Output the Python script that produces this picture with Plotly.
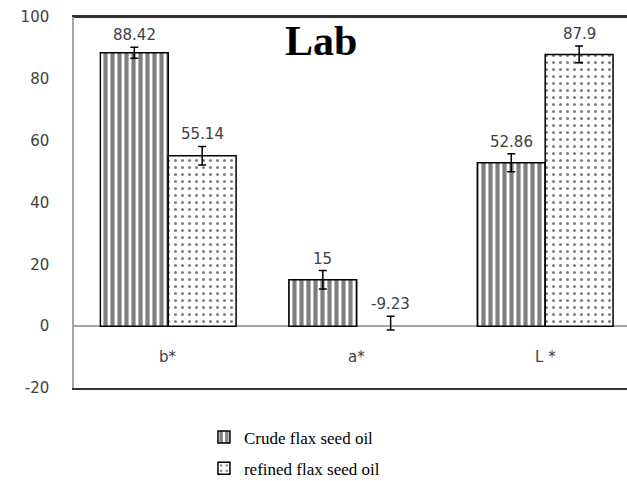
import plotly.graph_objects as go

categories = ["b*", "a*", "L *"]
crude_values = [88.42, 15, 52.86]
refined_values = [55.14, 0, 87.9]
crude_labels = ["88.42", "15", "52.86"]
refined_labels = ["55.14", "-9.23", "87.9"]
crude_err = [1.8, 3, 2.9]
refined_err_plus = [3, 3.2, 2.7]
refined_err_minus = [3, 1.2, 2.7]
y_ticks = [100, 80, 60, 40, 20, 0, -20]
y_tick_text = ["100", "80", "60", "40", "20", "0", "-20"]

x_idx = [0, 1, 2]
off = 0.18

fig = go.Figure()
fig.add_trace(go.Bar(
    x=x_idx, y=crude_values, name="Crude flax seed oil", legendgroup="a",
    marker=dict(color="white", line=dict(color="black", width=1.5),
                pattern=dict(shape="|", fgcolor="black", bgcolor="white", size=7, solidity=0.6)),
    error_y=dict(type="data", array=crude_err, color="black", thickness=1.5, width=4),
))
fig.add_trace(go.Bar(
    x=x_idx, y=refined_values, name="refined flax seed oil", legendgroup="b",
    marker=dict(color="white", line=dict(color="black", width=[1.5, 0, 1.5]),
                pattern=dict(shape=".", fgcolor="black", bgcolor="white", size=7, solidity=0.15)),
    error_y=dict(type="data", array=refined_err_plus, arrayminus=refined_err_minus,
                 symmetric=False, color="black", thickness=1.5, width=4),
))

ann = []
for i in range(3):
    ann.append(dict(x=i - off, y=crude_values[i] + crude_err[i], text=crude_labels[i],
                    showarrow=False, yanchor="bottom", yshift=1,
                    font=dict(family="DejaVu Sans", size=15, color="#404040")))
    ann.append(dict(x=i + off, y=refined_values[i] + refined_err_plus[i], text=refined_labels[i],
                    showarrow=False, yanchor="bottom", yshift=1,
                    font=dict(family="DejaVu Sans", size=15, color="#404040")))
    ann.append(dict(x=i, y=-10, text=categories[i], showarrow=False,
                    font=dict(family="DejaVu Sans", size=15, color="#404040")))
ann.append(dict(x=0.447, y=0.935, xref="paper", yref="paper", text="<b>Lab</b>", showarrow=False,
                yanchor="middle", font=dict(family="Liberation Serif", size=42, color="black")))

fig.update_layout(
    width=627, height=481,
    margin=dict(l=74, r=0, t=17, b=93, autoexpand=False),
    paper_bgcolor="white", plot_bgcolor="white",
    barmode="group", bargap=0.28, bargroupgap=0,
    annotations=ann,
    xaxis=dict(range=[-0.5, 2.434], showticklabels=False, showgrid=False, zeroline=False,
               showline=True, mirror=True, linecolor="#333333", linewidth=1.5,
               ticks="", automargin=False),
    yaxis=dict(range=[-20, 100], tickvals=y_ticks, ticktext=y_tick_text, showgrid=False,
               zeroline=True, automargin=False,
               zerolinecolor="#a6a6a6", zerolinewidth=1.5, showline=True, linecolor="#a6a6a6",
               linewidth=1.5, ticks="", ticklabelstandoff=20,
               tickfont=dict(family="DejaVu Sans", size=15, color="#404040")),
    shapes=[dict(type="line", xref="paper", yref="paper", x0=0, x1=1, y0=1, y1=1,
                 line=dict(color="#333333", width=2), layer="above")],
    showlegend=True,
    legend=dict(x=0.235, y=-0.085, xanchor="left", yanchor="top", tracegroupgap=6,
                font=dict(family="Liberation Serif", size=17, color="black"),
                itemwidth=30, bgcolor="rgba(0,0,0,0)"),
)

fig.write_html("out.html", config={"displayModeBar": False},
               post_script="document.body.style.margin='0';document.body.style.overflow='hidden';")
